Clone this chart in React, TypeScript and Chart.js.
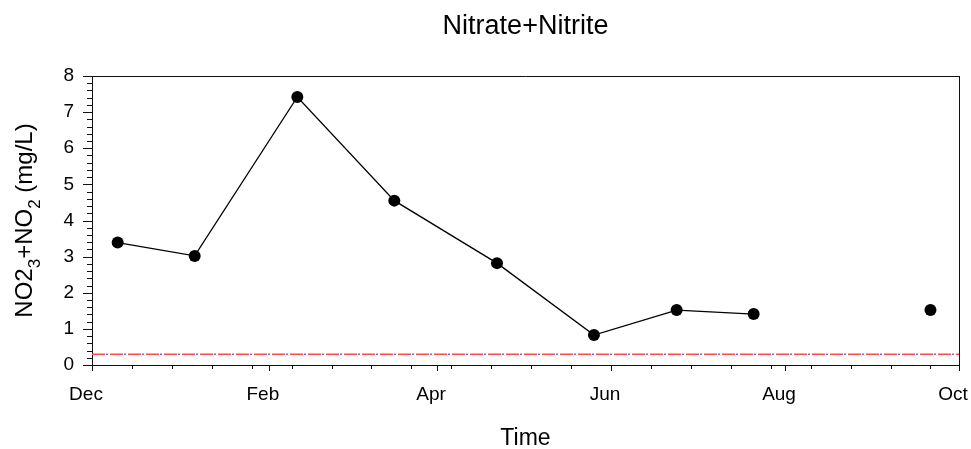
import React, { useEffect, useRef } from 'react';
import { Chart, registerables } from 'chart.js';

Chart.register(...registerables);

const chartTitle = 'Nitrate+Nitrite';
const xAxisTitle = 'Time';
const yAxisTitleParts = [
  { text: 'NO2', sub: false },
  { text: '3', sub: true },
  { text: '+NO', sub: false },
  { text: '2', sub: true },
  { text: ' (mg/L)', sub: false },
];

const axisStart = '2006-12-01';
const axisEnd = '2007-10-01';
const monthTickDates = ['2006-12-01', '2007-02-01', '2007-04-01', '2007-06-01', '2007-08-01', '2007-10-01'];
const monthTickLabels = ['Dec', 'Feb', 'Apr', 'Jun', 'Aug', 'Oct'];
const minorTickStepDays = 14;

const yMin = 0;
const yMax = 8;
const yTickValues = [0, 1, 2, 3, 4, 5, 6, 7, 8];
const yMinorStep = 0.2;

const connectedDates = ['2006-12-10', '2007-01-06', '2007-02-11', '2007-03-17', '2007-04-22', '2007-05-26', '2007-06-24', '2007-07-21'];
const connectedValues = [3.39, 3.02, 7.42, 4.55, 2.82, 0.83, 1.52, 1.41];
const isolatedDates = ['2007-09-21'];
const isolatedValues = [1.52];

const redReferenceLevel = 0.3;
const blueReferenceLevel = 0.3;

const FONT = "'Liberation Sans', Arial, sans-serif";

const dayOffset = (d: string) => (Date.parse(d) - Date.parse(axisStart)) / 86400000;

export default function App() {
  const ref = useRef<HTMLCanvasElement | null>(null);

  useEffect(() => {
    const canvas = ref.current;
    if (!canvas) return;
    const xMax = dayOffset(axisEnd);
    const monthTickValues = monthTickDates.map(dayOffset);

    const framePlugin = {
      id: 'frameAndTitles',
      afterDraw(chart: any) {
        const { ctx, chartArea, scales } = chart;
        const xs = scales.x;
        const ys = scales.y;
        ctx.save();
        ctx.strokeStyle = '#111';
        ctx.lineWidth = 1;
        // top and right frame
        ctx.beginPath();
        ctx.moveTo(chartArea.left, Math.round(chartArea.top) + 0.5);
        ctx.lineTo(chartArea.right, Math.round(chartArea.top) + 0.5);
        ctx.moveTo(Math.round(chartArea.right) + 0.5, chartArea.top);
        ctx.lineTo(Math.round(chartArea.right) + 0.5, chartArea.bottom);
        ctx.stroke();
        // y ticks
        ctx.beginPath();
        const nMinorY = Math.round((yMax - yMin) / yMinorStep);
        for (let i = 0; i <= nMinorY; i++) {
          const v = yMin + i * yMinorStep;
          const isMajor = yTickValues.some((t) => Math.abs(t - v) < 1e-6);
          const py = Math.round(ys.getPixelForValue(v)) + 0.5;
          const len = isMajor ? 9 : 5;
          ctx.moveTo(chartArea.left - len, py);
          ctx.lineTo(chartArea.left, py);
        }
        // x ticks
        for (let d = minorTickStepDays; d < xMax; d += minorTickStepDays) {
          const px = Math.round(xs.getPixelForValue(d)) + 0.5;
          ctx.moveTo(px, chartArea.bottom);
          ctx.lineTo(px, chartArea.bottom + 4);
        }
        monthTickValues.forEach((d) => {
          const px = Math.round(xs.getPixelForValue(d)) + 0.5;
          ctx.moveTo(px, chartArea.bottom);
          ctx.lineTo(px, chartArea.bottom + 6);
        });
        ctx.stroke();

        // titles
        ctx.fillStyle = '#000';
        ctx.textAlign = 'center';
        ctx.textBaseline = 'alphabetic';
        const cx = (chartArea.left + chartArea.right) / 2;
        ctx.font = `27px ${FONT}`;
        ctx.fillText(chartTitle, cx, 34);
        ctx.font = `23px ${FONT}`;
        ctx.fillText(xAxisTitle, cx, 445);

        // y axis title with subscripts
        const mainFont = `24px ${FONT}`;
        const subFont = `17px ${FONT}`;
        let total = 0;
        yAxisTitleParts.forEach((p) => {
          ctx.font = p.sub ? subFont : mainFont;
          total += ctx.measureText(p.text).width;
        });
        ctx.translate(32, (chartArea.top + chartArea.bottom) / 2);
        ctx.rotate(-Math.PI / 2);
        ctx.textAlign = 'left';
        let x = -total / 2;
        yAxisTitleParts.forEach((p) => {
          ctx.font = p.sub ? subFont : mainFont;
          ctx.fillText(p.text, x, p.sub ? 8 : 0);
          x += ctx.measureText(p.text).width;
        });
        ctx.restore();
      },
    };

    const chart = new Chart(canvas, {
      type: 'line',
      data: {
        datasets: [
          {
            data: [{ x: 0, y: blueReferenceLevel }, { x: xMax, y: blueReferenceLevel }],
            borderColor: '#6a6aff',
            borderWidth: 1.5,
            borderDash: [2, 16],
            borderDashOffset: -14,
            pointRadius: 0,
            order: 4,
          },
          {
            data: [{ x: 0, y: redReferenceLevel }, { x: xMax, y: redReferenceLevel }],
            borderColor: '#ff4a4a',
            borderWidth: 1.5,
            borderDash: [13, 5],
            pointRadius: 0,
            order: 3,
          },
          {
            data: connectedDates.map((d, i) => ({ x: dayOffset(d), y: connectedValues[i] })),
            borderColor: '#000',
            borderWidth: 1.3,
            pointRadius: 6,
            pointBackgroundColor: '#000',
            pointBorderWidth: 0,
            order: 1,
          },
          {
            data: isolatedDates.map((d, i) => ({ x: dayOffset(d), y: isolatedValues[i] })),
            showLine: false,
            borderColor: '#000',
            pointRadius: 6,
            pointBackgroundColor: '#000',
            pointBorderWidth: 0,
            order: 1,
          },
        ],
      },
      options: {
        animation: false,
        responsive: false,
        devicePixelRatio: 1,
        layout: { padding: { top: 76, right: 12, left: 0, bottom: 0 } },
        plugins: { legend: { display: false }, title: { display: false }, tooltip: { enabled: false } },
        scales: {
          x: {
            type: 'linear',
            min: 0,
            max: xMax,
            afterBuildTicks: (s: any) => {
              s.ticks = monthTickValues.map((v) => ({ value: v }));
            },
            afterFit: (s: any) => {
              s.height = 84;
              s.paddingLeft = 0;
              s.paddingRight = 0;
            },
            ticks: {
              callback: (v: any) => {
                const i = monthTickValues.findIndex((t) => Math.abs(t - v) < 1e-6);
                return i >= 0 ? monthTickLabels[i] : '';
              },
              autoSkip: false,
              maxRotation: 0,
              labelOffset: -6,
              padding: 18,
              color: '#000',
              font: { family: FONT, size: 19 },
            },
            grid: { display: false, drawTicks: false },
            border: { display: true, color: '#111', width: 1 },
          },
          y: {
            type: 'linear',
            min: yMin,
            max: yMax,
            afterBuildTicks: (s: any) => {
              s.ticks = yTickValues.map((v) => ({ value: v }));
            },
            afterFit: (s: any) => {
              s.width = 92;
              s.paddingTop = 0;
              s.paddingBottom = 0;
            },
            ticks: {
              padding: 18,
              color: '#000',
              font: { family: FONT, size: 19 },
            },
            grid: { display: false, drawTicks: false },
            border: { display: true, color: '#111', width: 1 },
          },
        },
      },
      plugins: [framePlugin],
    });
    return () => chart.destroy();
  }, []);

  return (
    <div style={{ position: 'fixed', left: 0, top: 0, width: 971, height: 449, background: '#fff' }}>
      <canvas ref={ref} width={971} height={449} style={{ display: 'block' }} />
    </div>
  );
}
